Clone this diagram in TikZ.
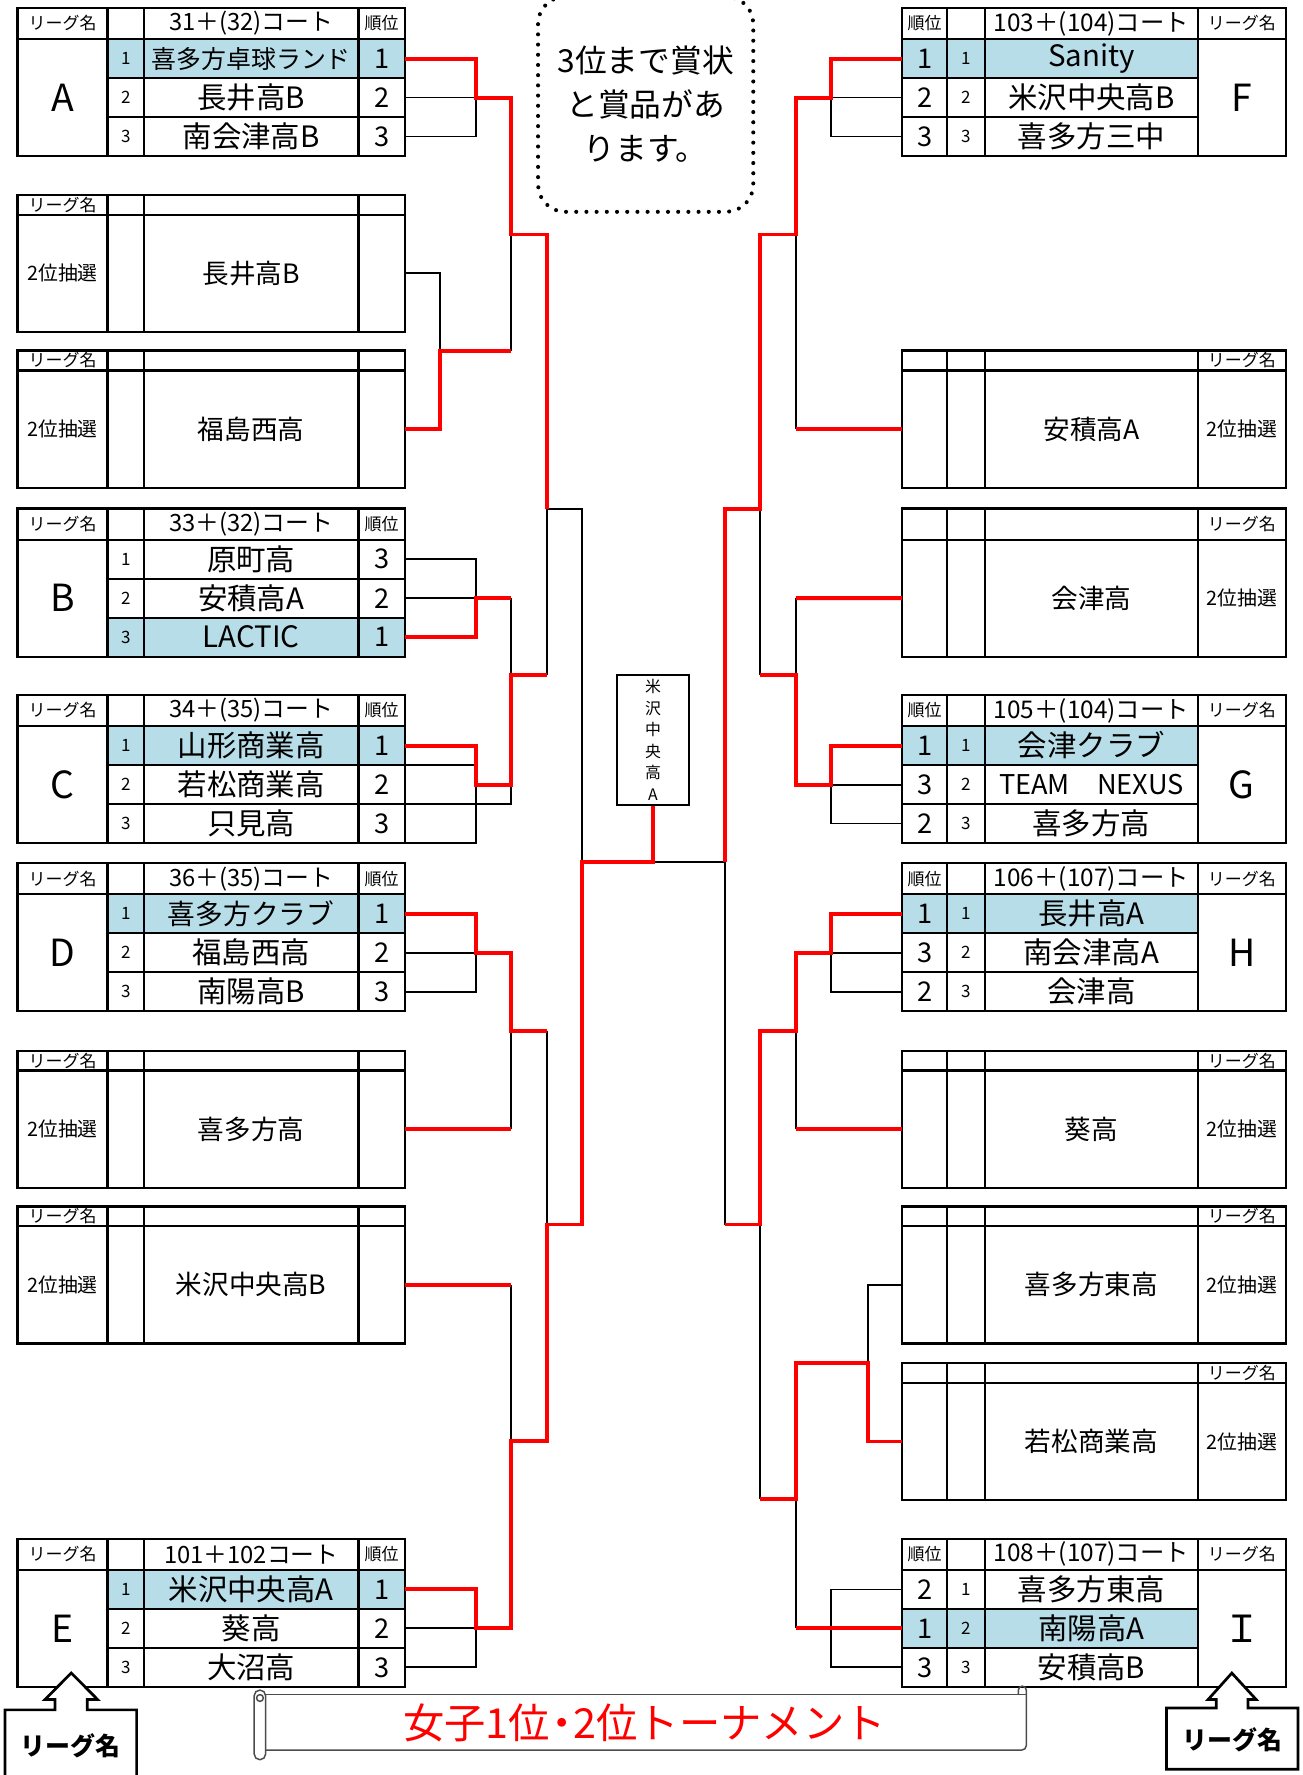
\documentclass[tikz,border=0pt]{standalone}
\usepackage{fontspec}
\setmainfont{Noto Sans CJK JP}
\definecolor{hlblue}{HTML}{B7DDE8}
\newcommand{\fsz}[1]{\fontsize{#1}{#1}\selectfont}
\newcommand{\ltr}[1]{\ifx I#1Ｉ\else#1\fi}
\newcommand{\hlrow}[3]{\fill[hl] (#1,#2+27.5+34.4*#3-34.4) rectangle (#1+262,#2+27.5+34.4*#3);}
\tikzset{
  tbl/.style={line width=2pt},
  lose/.style={line width=1.7pt},
  win/.style={line width=3.5pt,red},
  hl/.style={fill=hlblue},
  txt/.style={inner sep=0pt},
  nm/.style={txt,font=\fsz{26}},
  dn/.style={txt,font=\fsz{23.5}},
  rk/.style={txt,font=\fsz{24}},
  sn/.style={txt,font=\fsz{15}},
  letter/.style={txt,font=\fsz{33}},
  court/.style={txt,font=\fsz{21}},
  rcourt/.style={txt,font=\fsz{21.5}},
  hdsmall/.style={txt,font=\fsz{15}},
  lot/.style={txt,font=\fsz{17.5}},
  champbox/.style={draw,line width=1.8pt,minimum width=63pt,minimum height=114.5pt,inner sep=0pt,align=center,font=\fontsize{14}{19}\selectfont},
  notebox/.style={draw,line width=3.6pt,dash pattern=on 0pt off 9pt,line cap=round,rounded corners=24pt,minimum width=190pt,minimum height=190pt,align=center,inner sep=0pt,font=\fontsize{28}{38.5}\selectfont},
  callout/.style={line width=2.4pt,fill=white},
  callt/.style={txt,font=\fsz{22}\bfseries},
  scroll/.style={line width=1.3pt,draw=black!70},
  ttl/.style={txt,text=red,font=\fsz{36.5}}
}
\newcommand{\leftleague}[9]{%
  \draw[tbl] (15.5,#2) rectangle (357.5,#2+130.7);
  \draw[tbl] (15.5,#2+27.5) -- (357.5,#2+27.5)
    (95,#2+61.9) -- (357.5,#2+61.9) (95,#2+96.3) -- (357.5,#2+96.3)
    (95,#2) -- (95,#2+130.7) (127,#2) -- (127,#2+130.7) (316.5,#2) -- (316.5,#2+130.7);
  \node[hdsmall] (#1h) at (55.25,#2+13.75) {リーグ名};
  \node[court] (#1c) at (221.75,#2+13.75) {#3};
  \node[hdsmall] (#1o) at (337,#2+13.75) {順位};
  \node[letter] (#1l) at (55.25,#2+79.1) {#1};
  \node[sn] (#1k1) at (111,#2+44.7) {1};
  \node[sn] (#1k2) at (111,#2+79.1) {2};
  \node[sn] (#1k3) at (111,#2+113.5) {3};
  \node[nm] (#1n1) at (221.75,#2+44.7) {#4};
  \node[nm] (#1n2) at (221.75,#2+79.1) {#5};
  \node[nm] (#1n3) at (221.75,#2+113.5) {#6};
  \node[rk] (#1r1) at (337,#2+44.7) {#7};
  \node[rk] (#1r2) at (337,#2+79.1) {#8};
  \node[rk] (#1r3) at (337,#2+113.5) {#9};
  \coordinate (#1-1) at (357.5,#2+44.7);
  \coordinate (#1-2) at (357.5,#2+79.1);
  \coordinate (#1-3) at (357.5,#2+113.5);
}
\newcommand{\rightleague}[9]{%
  \draw[tbl] (796.5,#2) rectangle (1135,#2+130.7);
  \draw[tbl] (796.5,#2+27.5) -- (1135,#2+27.5)
    (796.5,#2+61.9) -- (1057.5,#2+61.9) (796.5,#2+96.3) -- (1057.5,#2+96.3)
    (836,#2) -- (836,#2+130.7) (869.5,#2) -- (869.5,#2+130.7) (1057.5,#2) -- (1057.5,#2+130.7);
  \node[hdsmall] (#1o) at (816.25,#2+13.75) {順位};
  \node[rcourt] (#1c) at (963.5,#2+13.75) {#3};
  \node[hdsmall] (#1h) at (1096.25,#2+13.75) {リーグ名};
  \node[letter] (#1l) at (1096.25,#2+79.1) {\ltr{#1}};
  \node[rk] (#1r1) at (816.25,#2+44.7) {#7};
  \node[rk] (#1r2) at (816.25,#2+79.1) {#8};
  \node[rk] (#1r3) at (816.25,#2+113.5) {#9};
  \node[sn] (#1k1) at (852.75,#2+44.7) {1};
  \node[sn] (#1k2) at (852.75,#2+79.1) {2};
  \node[sn] (#1k3) at (852.75,#2+113.5) {3};
  \node[nm] (#1n1) at (963.5,#2+44.7) {#4};
  \node[nm] (#1n2) at (963.5,#2+79.1) {#5};
  \node[nm] (#1n3) at (963.5,#2+113.5) {#6};
  \coordinate (#1-1) at (796.5,#2+44.7);
  \coordinate (#1-2) at (796.5,#2+79.1);
  \coordinate (#1-3) at (796.5,#2+113.5);
}
\newcommand{\leftdraw}[5]{%
  \draw[tbl] (15.5,#2) rectangle (357.5,#2+#4);
  \draw[tbl] (15.5,#2+#3) -- (357.5,#2+#3)
    (95,#2) -- (95,#2+#4) (127,#2) -- (127,#2+#4) (316.5,#2) -- (316.5,#2+#4);
  \node[hdsmall] (#1h) at (55.25,#2+#3/2) {リーグ名};
  \node[lot] (#1l) at (55.25,#2+#3/2+#4/2) {2位抽選};
  \node[dn] (#1n) at (221.75,#2+#3/2+#4/2) {#5};
  \coordinate (#1) at (357.5,#2+#3/2+#4/2);
}
\newcommand{\rightdraw}[5]{%
  \draw[tbl] (796.5,#2) rectangle (1135,#2+#4);
  \draw[tbl] (796.5,#2+#3) -- (1135,#2+#3)
    (836,#2) -- (836,#2+#4) (869.5,#2) -- (869.5,#2+#4) (1057.5,#2) -- (1057.5,#2+#4);
  \node[hdsmall] (#1h) at (1096.25,#2+#3/2) {リーグ名};
  \node[lot] (#1l) at (1096.25,#2+#3/2+#4/2) {2位抽選};
  \node[dn] (#1n) at (963.5,#2+#3/2+#4/2) {#5};
  \coordinate (#1) at (796.5,#2+#3/2+#4/2);
}
\begin{document}
\begin{tikzpicture}[x=1pt,y=-1pt]
\useasboundingbox (0,0) rectangle (1150,1567);

\hlrow{95}{7}{1}
\hlrow{95}{449}{3}
\hlrow{95}{613.5}{1}
\hlrow{95}{762}{1}
\hlrow{95}{1358.5}{1}
\hlrow{796.5}{7}{1}
\hlrow{796.5}{613.5}{1}
\hlrow{796.5}{762}{1}
\hlrow{796.5}{1358.5}{2}

\leftleague{A}{7}{31＋(32)コート}{{\fsz{22}喜多方卓球ランド}}{長井高B}{南会津高B}{1}{2}{3}
\leftdraw{dL1}{172}{17.5}{121}{長井高B}
\leftdraw{dL2}{309.5}{17.5}{121}{福島西高}
\leftleague{B}{449}{33＋(32)コート}{原町高}{安積高A}{LACTIC}{3}{2}{1}
\leftleague{C}{613.5}{34＋(35)コート}{山形商業高}{若松商業高}{只見高}{1}{2}{3}
\leftleague{D}{762}{36＋(35)コート}{{\fsz{24.5}喜多方クラブ}}{福島西高}{南陽高B}{1}{2}{3}
\leftdraw{dL3}{927.6}{17.5}{121}{喜多方高}
\leftdraw{dL4}{1065}{17.5}{121}{米沢中央高B}
\leftleague{E}{1358.5}{101＋102コート}{米沢中央高A}{葵高}{大沼高}{1}{2}{3}

\rightleague{F}{7}{103＋(104)コート}{Sanity}{米沢中央高B}{喜多方三中}{1}{2}{3}
\rightdraw{dR1}{309.5}{17.5}{121}{安積高A}
\rightdraw{dR2}{449}{27.5}{130.7}{会津高}
\rightleague{G}{613.5}{105＋(104)コート}{会津クラブ}{{\fsz{24}TEAM　NEXUS}}{喜多方高}{1}{3}{2}
\rightleague{H}{762}{106＋(107)コート}{長井高A}{南会津高A}{会津高}{1}{3}{2}
\rightdraw{dR3}{927.6}{17.5}{121}{葵高}
\rightdraw{dR4}{1065}{17.5}{121}{喜多方東高}
\rightdraw{dR5}{1203.3}{17.5}{121}{若松商業高}
\rightleague{I}{1358.5}{108＋(107)コート}{喜多方東高}{南陽高A}{安積高B}{2}{1}{3}

\node[champbox] (champ) at (576.5,653.25) {米\\沢\\中\\央\\高\\A};
\node[notebox] (note) at (570,92) {3位まで賞状\\と賞品があ\\ります。};

\draw[lose] (A-2) -- (420,86.1) -- (420,120.5) -- (A-3);
\draw[lose] (dL1) -- (388.5,241.25) -- (388.5,309.5);
\draw[lose] (451.5,207) -- (451.5,309.5);
\draw[lose] (483,596) -- (483,449) -- (513.5,449) -- (513.5,761);
\draw[lose] (B-1) -- (420,493.7) -- (420,528.1) -- (B-2);
\draw[lose] (451.5,528.1) -- (451.5,596);
\draw[lose] (357.5,675.4) -- (420,675.4);
\draw[lose] (357.5,709.8) -- (451.5,709.8) -- (451.5,692.6);
\draw[lose] (357.5,744.2) -- (420,744.2) -- (420,692.6);
\draw[lose] (D-2) -- (420,841.1) -- (420,875.5) -- (D-3);
\draw[lose] (451.5,910.5) -- (451.5,996.85);
\draw[lose] (483,910.5) -- (483,1081);
\draw[lose] (451.5,1134.25) -- (451.5,1272.3);
\draw[lose] (E-2) -- (420,1437.6) -- (420,1472) -- (E-3);
\draw[lose] (576.5,761) -- (640,761);

\draw[lose] (F-2) -- (734,86.1) -- (734,120.5) -- (F-3);
\draw[lose] (702.5,207) -- (702.5,378.75);
\draw[lose] (671,449) -- (671,596);
\draw[lose] (702.5,528.1) -- (702.5,596);
\draw[lose] (G-2) -- (734,692.6) -- (734,727) -- (G-3);
\draw[lose] (640,761) -- (640,1081);
\draw[lose] (H-2) -- (734,841.1) -- (734,875.5) -- (H-3);
\draw[lose] (702.5,910.5) -- (702.5,996.85);
\draw[lose] (671,1081) -- (671,1323.5);
\draw[lose] (dR4) -- (766,1134.25) -- (766,1203.3);
\draw[lose] (702.5,1323.5) -- (702.5,1437.6);
\draw[lose] (I-1) -- (734,1403.2) -- (734,1472) -- (I-3);

\draw[win] (A-1) -- (420,51.7) -- (420,86.1) -- (451.5,86.1) -- (451.5,207) -- (483,207) -- (483,449);
\draw[win] (dL2) -- (388.5,378.75) -- (388.5,309.5) -- (451.5,309.5);
\draw[win] (B-3) -- (420,562.5) -- (420,528.1) -- (451.5,528.1);
\draw[win] (C-1) -- (420,658.2) -- (420,692.6) -- (451.5,692.6) -- (451.5,596) -- (483,596);
\draw[win] (D-1) -- (420,806.7) -- (420,841.1) -- (451.5,841.1) -- (451.5,910.5) -- (483,910.5);
\draw[win] (dL3) -- (451.5,996.85);
\draw[win] (dL4) -- (451.5,1134.25);
\draw[win] (E-1) -- (420,1403.2) -- (420,1437.6) -- (451.5,1437.6) -- (451.5,1272.3) -- (483,1272.3) -- (483,1081) -- (513.5,1081) -- (513.5,761) -- (576.5,761) -- (champ.south);

\draw[win] (F-1) -- (734,51.7) -- (734,86.1) -- (702.5,86.1) -- (702.5,207) -- (671,207) -- (671,449) -- (640,449) -- (640,761);
\draw[win] (dR1) -- (702.5,378.75);
\draw[win] (dR2) -- (702.5,528.1);
\draw[win] (G-1) -- (734,658.2) -- (734,692.6) -- (702.5,692.6) -- (702.5,596) -- (671,596);
\draw[win] (H-1) -- (734,806.7) -- (734,841.1) -- (702.5,841.1) -- (702.5,910.5) -- (671,910.5) -- (671,1081) -- (640,1081);
\draw[win] (dR3) -- (702.5,996.85);
\draw[win] (dR5) -- (766,1272.55) -- (766,1203.3) -- (702.5,1203.3) -- (702.5,1323.5) -- (671,1323.5);
\draw[win] (I-2) -- (702.5,1437.6);

\draw[callout] (4.4,1580) -- (4.4,1509.5) -- (48.6,1509.5) -- (48.6,1500.4) -- (39.7,1500.4) -- (62.9,1476.9) -- (86.2,1500.4) -- (77.1,1500.4) -- (77.1,1509.5) -- (120.6,1509.5) -- (120.6,1580);
\node[callt] (lcall) at (62,1541) {リーグ名};
\draw[callout] (1029.7,1562) -- (1029.7,1507.8) -- (1073.8,1507.8) -- (1073.8,1500.4) -- (1066.5,1500.4) -- (1087.5,1477) -- (1109,1500.4) -- (1101.8,1500.4) -- (1101.8,1507.8) -- (1145.9,1507.8) -- (1145.9,1562) -- cycle;
\node[callt] (rcall) at (1088,1536) {リーグ名};

\draw[scroll] (234.5,1496) -- (906,1496);
\draw[scroll,rounded corners=4pt] (234.5,1545) -- (906,1545) -- (906,1492);
\draw[scroll] (899,1496) -- (899,1492) arc[start angle=180,end angle=360,radius=3.5];
\draw[scroll,fill=white,rounded corners=5pt] (224.4,1492) rectangle (234.5,1553.5);
\draw[scroll] (229.5,1499) circle[radius=3];
\node[ttl] (title) at (569,1521) {女子1位\kern-0.22em・\kern-0.22em2位トーナメント};
\end{tikzpicture}
\end{document}
